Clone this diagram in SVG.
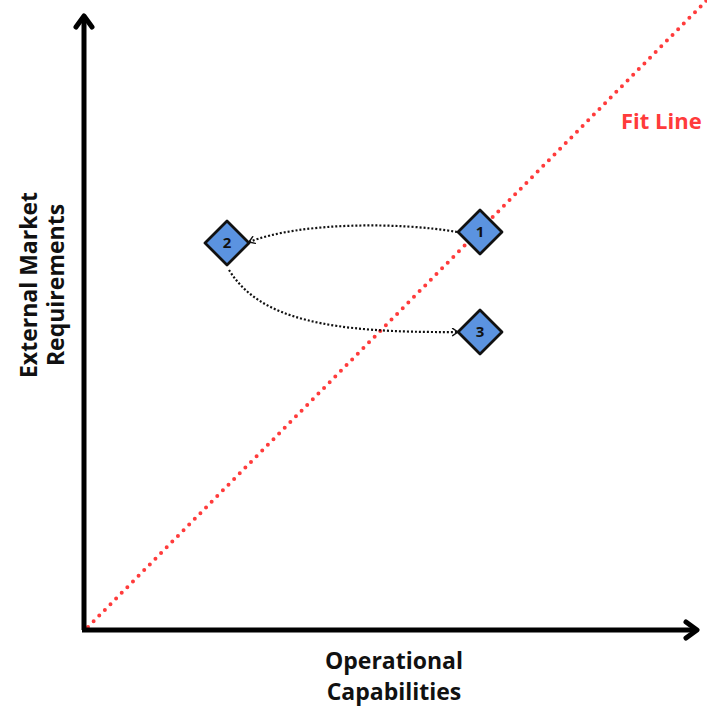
<svg xmlns="http://www.w3.org/2000/svg" width="707" height="709" viewBox="0 0 707 709">
  <style>
    .axis { stroke: #000; stroke-width: 5; fill: none; }
    .head { stroke: #000; stroke-width: 5; fill: none; stroke-linecap: round; stroke-linejoin: round; }
    .fit { stroke: #ff3b3b; stroke-width: 4; stroke-dasharray: 0 8; stroke-linecap: round; fill: none; }
    .link { stroke: #111; stroke-width: 2.2; stroke-dasharray: 2 2; fill: none; }
    .node { fill: #5b93e0; stroke: #111; stroke-width: 2.8; stroke-linejoin: round; }
    .nlabel { font-family: "Open Sans", "Liberation Sans", sans-serif; font-weight: bold; font-size: 15px; fill: #111; text-anchor: middle; }
    .axlabel { font-family: "Open Sans", "Liberation Sans", sans-serif; font-weight: bold; font-size: 23px; fill: #111; text-anchor: middle; }
    .fitlabel { font-family: "Open Sans", "Liberation Sans", sans-serif; font-weight: bold; font-size: 22px; fill: #ff3b3b; }
  </style>
  <defs>
    <marker id="arrow" viewBox="0 0 10 10" refX="8" refY="5" markerWidth="9" markerHeight="9" orient="auto" markerUnits="userSpaceOnUse">
      <path d="M2,1 L8,5 L2,9" fill="none" stroke="#111" stroke-width="1.6" stroke-linecap="round" stroke-linejoin="round"/>
    </marker>
  </defs>

  <rect width="707" height="709" fill="#fff"/>

  <!-- fit line -->
  <line class="fit" x1="88" y1="627" x2="707" y2="0"/>

  <!-- axes -->
  <g id="axes">
    <path class="axis" d="M84,630 L84,16"/>
    <path class="head" d="M76,27 L84,16 L92,27"/>
    <path class="axis" d="M82,630 L695,630"/>
    <path class="head" d="M686,622 L697,630 L686,638"/>
  </g>

  <text class="fitlabel" x="621" y="129">Fit Line</text>

  <text class="axlabel" x="394" y="669">Operational</text>
  <text class="axlabel" x="394" y="700">Capabilities</text>
  <g transform="translate(37,285) rotate(-90)">
    <text class="axlabel" x="0" y="0">External Market</text>
    <text class="axlabel" x="0" y="27">Requirements</text>
  </g>

  <!-- connectors -->
  <g id="connectors">
    <path class="link" d="M457,232 C400,222 300,222 249,242" marker-end="url(#arrow)"/>
    <path class="link" d="M229,270 C260,320 330,333 458,332" marker-end="url(#arrow)"/>
  </g>

  <!-- nodes -->
  <g id="node-1">
    <path class="node" d="M480,210 L502,232 L480,254 L458,232 Z"/>
    <text class="nlabel" x="480" y="237">1</text>
  </g>
  <g id="node-2">
    <path class="node" d="M227,221 L249,243 L227,265 L205,243 Z"/>
    <text class="nlabel" x="227" y="248">2</text>
  </g>
  <g id="node-3">
    <path class="node" d="M480,310 L502,332 L480,354 L458,332 Z"/>
    <text class="nlabel" x="480" y="337">3</text>
  </g>
</svg>
